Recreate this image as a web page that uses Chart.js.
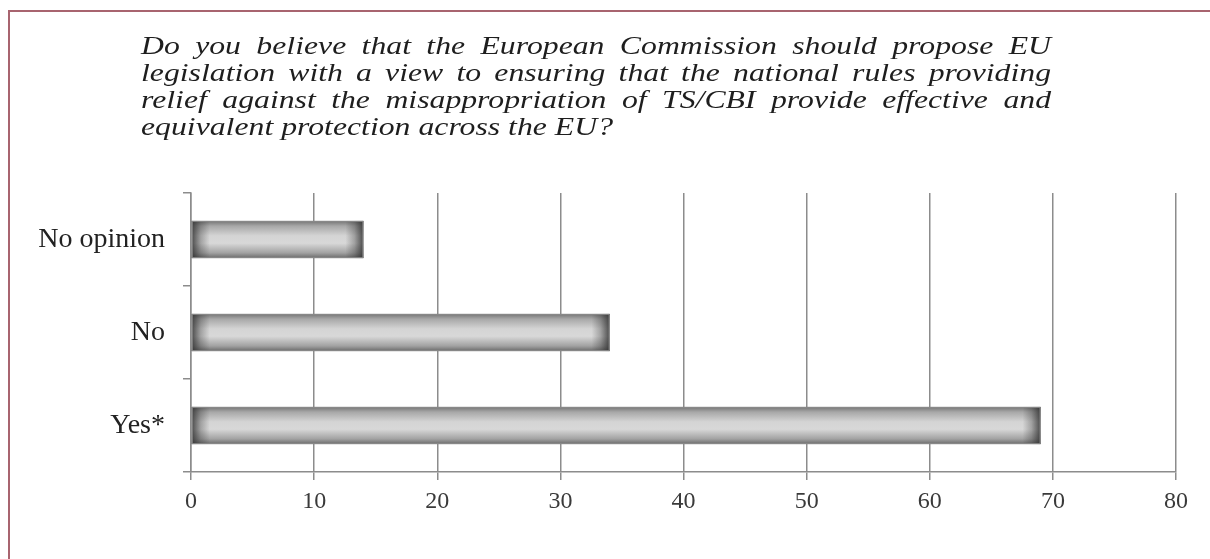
<!DOCTYPE html>
<html>
<head>
<meta charset="utf-8">
<script src="https://cdn.jsdelivr.net/npm/chart.js@4.4.1/dist/chart.umd.min.js"></script>
<style>
    html, body { margin: 0; padding: 0; background: #fff; }
    #wrap { position: relative; width: 1210px; height: 559px; overflow: hidden; }
    #frame { position: absolute; left: 8px; top: 10px; width: 1230px; height: 600px;
             border-left: 2px solid #a8646f; border-top: 2px solid #a8646f; }
    canvas { position: absolute; left: 0; top: 0; }
</style>
</head>
<body>
<div id="wrap">
    <div id="frame"></div>
    <canvas id="barChart" width="1210" height="559"></canvas>
</div>
<script>
var categories = ['No opinion', 'No', 'Yes*'];
var responses = [14, 34, 69];
var titleLines = [
    'Do you believe that the European Commission should propose EU',
    'legislation with a view to ensuring that the national rules providing',
    'relief against the misappropriation of TS/CBI provide effective and',
    'equivalent protection across the EU?'
];

var gridGrey = '#8c8c8c';

// question text, stretched and justified like the original
var questionTitle = {
    id: 'questionTitle',
    afterDraw: function(chart) {
        var ctx = chart.ctx;
        var left = 141, fullWidth = 910, lastWidth = 472, firstBase = 54, lineHeight = 27;
        var last = titleLines.length - 1;
        ctx.save();
        ctx.font = 'italic 26px "Liberation Serif"';
        ctx.fillStyle = '#1e1e1e';
        ctx.textBaseline = 'alphabetic';
        var stretch = lastWidth / ctx.measureText(titleLines[last]).width;
        titleLines.forEach(function(line, i) {
            ctx.save();
            ctx.translate(left, firstBase + i * lineHeight);
            ctx.scale(stretch, 1);
            if (i < last) {
                var words = line.split(' ');
                var wordsWidth = 0;
                words.forEach(function(w) { wordsWidth += ctx.measureText(w).width; });
                var gap = (fullWidth / stretch - wordsWidth) / (words.length - 1);
                var x = 0;
                words.forEach(function(w) {
                    ctx.fillText(w, x, 0);
                    x += ctx.measureText(w).width + gap;
                });
            } else {
                ctx.fillText(line, 0, 0);
            }
            ctx.restore();
        });
        ctx.restore();
    }
};

// cylinder-like shading on each bar
var shadedBars = {
    id: 'shadedBars',
    afterDatasetsDraw: function(chart) {
        var ctx = chart.ctx;
        chart.getDatasetMeta(0).data.forEach(function(bar) {
            var p = bar.getProps(['x', 'y', 'base', 'height'], true);
            var x0 = Math.min(p.base, p.x), x1 = Math.max(p.base, p.x);
            var y0 = p.y - p.height / 2, h = p.height;
            ctx.save();
            var g = ctx.createLinearGradient(0, y0, 0, y0 + h);
            g.addColorStop(0, '#747474');
            g.addColorStop(0.14, '#a8a8a8');
            g.addColorStop(0.4, '#d4d4d4');
            g.addColorStop(0.6, '#d8d8d8');
            g.addColorStop(0.86, '#a2a2a2');
            g.addColorStop(1, '#6a6a6a');
            ctx.fillStyle = g;
            ctx.fillRect(x0, y0, x1 - x0, h);
            var e = 18;
            var gl = ctx.createLinearGradient(x0, 0, x0 + e, 0);
            gl.addColorStop(0, 'rgba(40,40,40,0.8)');
            gl.addColorStop(0.5, 'rgba(40,40,40,0.3)');
            gl.addColorStop(1, 'rgba(40,40,40,0)');
            ctx.fillStyle = gl;
            ctx.fillRect(x0, y0, e, h);
            var gr = ctx.createLinearGradient(x1 - e, 0, x1, 0);
            gr.addColorStop(0, 'rgba(40,40,40,0)');
            gr.addColorStop(0.5, 'rgba(40,40,40,0.3)');
            gr.addColorStop(1, 'rgba(40,40,40,0.8)');
            ctx.fillStyle = gr;
            ctx.fillRect(x1 - e, y0, e, h);
            ctx.strokeStyle = '#8a8a8a';
            ctx.lineWidth = 1;
            ctx.strokeRect(x0 + 0.5, y0 + 0.5, x1 - x0 - 1, h - 1);
            ctx.restore();
        });
    }
};

var ctx = document.getElementById('barChart').getContext('2d');
var barChart = new Chart(ctx, {
    type: 'bar',
    data: {
        labels: categories,
        datasets: [{
            data: responses,
            backgroundColor: 'rgba(0,0,0,0)',
            borderWidth: 0,
            barPercentage: 0.4,
            categoryPercentage: 1
        }]
    },
    options: {
        indexAxis: 'y',
        responsive: false,
        animation: false,
        layout: { padding: { top: 193, right: 34, left: 0, bottom: 0 } },
        plugins: {
            legend: { display: false },
            title: { display: false },
            tooltip: { enabled: false }
        },
        scales: {
            x: {
                min: 0,
                max: 80,
                ticks: {
                    stepSize: 10,
                    padding: 7,
                    color: '#3a3a3a',
                    font: { family: '"Liberation Serif"', size: 24 }
                },
                grid: { color: gridGrey, lineWidth: 1.5, tickLength: 8 },
                border: { color: gridGrey, width: 1.5 },
                afterFit: function(scale) { scale.height = 87; }
            },
            y: {
                ticks: {
                    padding: 18,
                    color: '#222',
                    font: { family: '"Liberation Serif"', size: 28 }
                },
                grid: { offset: true, drawOnChartArea: false, color: gridGrey, lineWidth: 1.5, tickLength: 8 },
                border: { color: gridGrey, width: 1.5 },
                afterFit: function(scale) { scale.width = 191; }
            }
        }
    },
    plugins: [questionTitle, shadedBars]
});
</script>
</body>
</html>
